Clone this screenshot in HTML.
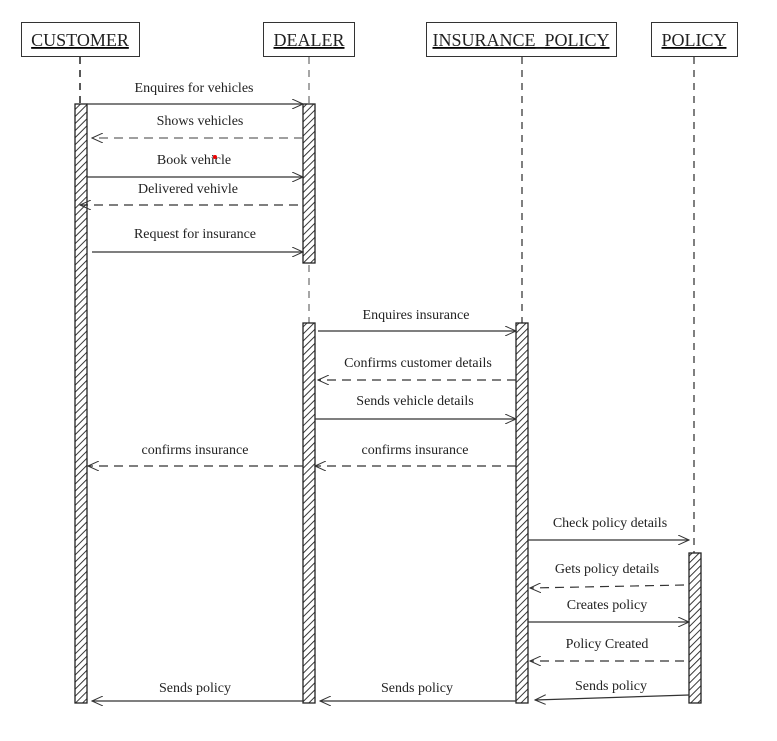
<!DOCTYPE html>
<html><head><meta charset="utf-8"><style>
html,body{margin:0;padding:0;background:#fff}
svg{display:block}
text{font-family:"Liberation Serif",serif;font-size:14px;fill:#222}
</style></head><body>
<svg width="777" height="741" viewBox="0 0 777 741" xmlns="http://www.w3.org/2000/svg">
<defs>
<pattern id="h" patternUnits="userSpaceOnUse" width="5" height="5" patternTransform="rotate(45)">
<rect width="5" height="5" fill="#fff"/><line x1="0" y1="0" x2="0" y2="5" stroke="#222" stroke-width="1.8"/>
</pattern>
<marker id="a" markerWidth="12" markerHeight="10" refX="11" refY="5" orient="auto" markerUnits="userSpaceOnUse">
<path d="M0,0 L11,5 L0,10" fill="none" stroke="#333" stroke-width="1"/>
</marker>
</defs>
<g stroke="#333" stroke-width="1" fill="#fff">
<rect x="21.5" y="22.5" width="118" height="34"/>
<rect x="263.5" y="22.5" width="91" height="34"/>
<rect x="426.5" y="22.5" width="190" height="34"/>
<rect x="651.5" y="22.5" width="86" height="34"/>
</g>
<g text-anchor="middle" style="text-decoration:underline">
<text x="80" y="46" style="font-size:18px">CUSTOMER</text>
<text x="309" y="46" style="font-size:18px">DEALER</text>
<text x="521" y="46" style="font-size:18px">INSURANCE_POLICY</text>
<text x="694" y="46" style="font-size:18px">POLICY</text>
</g>
<g stroke-width="1.5">
<line x1="80" y1="57" x2="80" y2="104" stroke="#222" stroke-dasharray="7,6"/>
<line x1="309" y1="57" x2="309" y2="323" stroke="#888" stroke-dasharray="7,6"/>
<line x1="522" y1="57" x2="522" y2="323" stroke="#555" stroke-dasharray="7,6"/>
<line x1="694" y1="57" x2="694" y2="553" stroke="#555" stroke-dasharray="7,6"/>
</g>
<g fill="url(#h)" stroke="#222" stroke-width="1.3">
<rect x="75" y="104" width="12" height="599"/>
<rect x="303" y="104" width="12" height="159"/>
<rect x="303" y="323" width="12" height="380"/>
<rect x="516" y="323" width="12" height="380"/>
<rect x="689" y="553" width="12" height="150"/>
</g>
<g stroke="#333" stroke-width="1.2" fill="none" marker-end="url(#a)">
<line x1="87" y1="104" x2="303" y2="104"/>
<line x1="303" y1="138" x2="92" y2="138" stroke-dasharray="9,6" stroke="#666"/>
<line x1="87" y1="177" x2="303" y2="177"/>
<line x1="298" y1="205" x2="80" y2="205" stroke-dasharray="9,6"/>
<line x1="92" y1="252" x2="303" y2="252"/>
<line x1="318" y1="331" x2="516" y2="331"/>
<line x1="516" y1="380" x2="318" y2="380" stroke-dasharray="9,6"/>
<line x1="315" y1="419" x2="516" y2="419"/>
<line x1="303" y1="466" x2="88" y2="466" stroke-dasharray="9,6"/>
<line x1="516" y1="466" x2="315" y2="466" stroke-dasharray="9,6"/>
<line x1="528" y1="540" x2="689" y2="540"/>
<line x1="684" y1="585" x2="530" y2="588" stroke-dasharray="9,6"/>
<line x1="528" y1="622" x2="689" y2="622"/>
<line x1="684" y1="661" x2="530" y2="661" stroke-dasharray="9,6"/>
<line x1="689" y1="695" x2="535" y2="700"/>
<line x1="303" y1="701" x2="92" y2="701"/>
<line x1="516" y1="701" x2="320" y2="701"/>
</g>
<g text-anchor="middle">
<text x="194" y="92">Enquires for vehicles</text>
<text x="200" y="125">Shows vehicles</text>
<text x="194" y="164">Book vehicle</text>
<text x="188" y="193">Delivered vehivle</text>
<text x="195" y="238">Request for insurance</text>
<text x="416" y="319">Enquires insurance</text>
<text x="418" y="367">Confirms customer details</text>
<text x="415" y="405">Sends vehicle details</text>
<text x="195" y="454">confirms insurance</text>
<text x="415" y="454">confirms insurance</text>
<text x="610" y="527">Check policy details</text>
<text x="607" y="573">Gets policy details</text>
<text x="607" y="609">Creates policy</text>
<text x="607" y="648">Policy Created</text>
<text x="611" y="690">Sends policy</text>
<text x="195" y="692">Sends policy</text>
<text x="417" y="692">Sends policy</text>
</g>
<circle cx="215" cy="157" r="2" fill="#e00"/>
</svg>
</body></html>
